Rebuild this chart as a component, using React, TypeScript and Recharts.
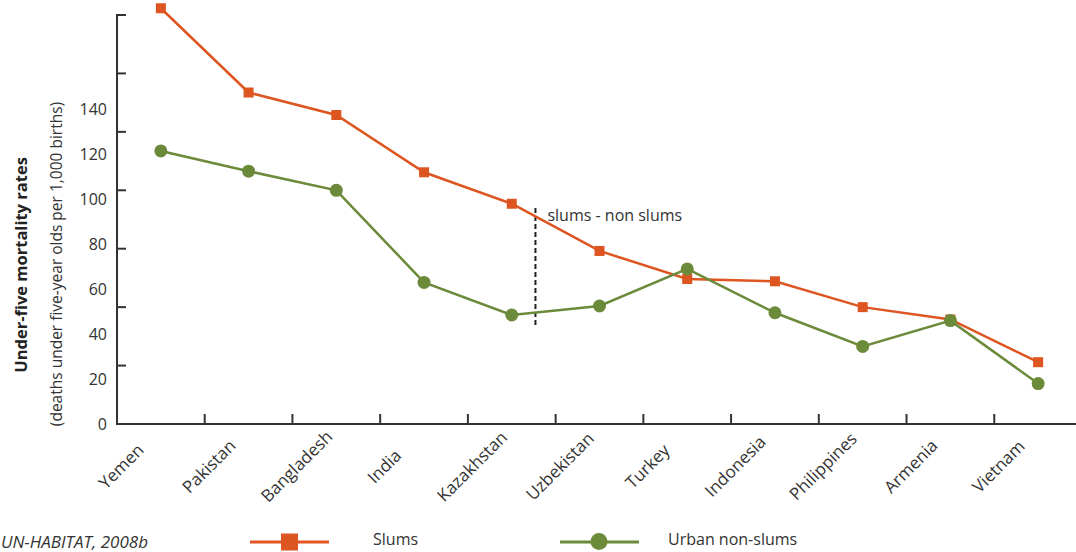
import React from "react";
import {
  LineChart,
  Line,
  XAxis,
  YAxis,
  ReferenceLine,
  Legend,
} from "recharts";

const countries = [
  "Yemen",
  "Pakistan",
  "Bangladesh",
  "India",
  "Kazakhstan",
  "Uzbekistan",
  "Turkey",
  "Indonesia",
  "Philippines",
  "Armenia",
  "Vietnam",
];
const slums = [185, 147.5, 137.5, 112, 98, 77, 64.5, 63.5, 52, 46.5, 27.5];
const nonSlums = [121.5, 112.5, 104, 63, 48.5, 52.5, 69, 49.5, 34.5, 46, 18];

// the printed labels and the tick marks do not share a step in the original
const yLabelTicks = [0, 20, 40, 60, 80, 100, 120, 140];
const yMarkTicks = [0, 26, 52, 78, 104, 130, 156, 182];

const ORANGE = "#DD5520";
const GREEN = "#6B8A3A";
const INK = "#333";
const FONT = "'Open Sans', sans-serif";
const BAND = 87.7; // width of one country slot in px

const data = countries.map((country, i) => ({
  idx: i,
  country,
  slums: slums[i],
  nonSlums: nonSlums[i],
}));

const CountryTick = (props: any) => {
  const { x, y, payload } = props;
  const cx = x - 40;
  const cy = y + 42;
  const last = payload.value === countries.length - 1;
  return (
    <g>
      {!last && (
        <line
          x1={x + BAND / 2}
          x2={x + BAND / 2}
          y1={y}
          y2={y - 10}
          stroke={INK}
          strokeWidth={2}
        />
      )}
      <text
        x={cx}
        y={cy}
        transform={`rotate(-45 ${cx} ${cy})`}
        textAnchor="middle"
        dominantBaseline="central"
        fontSize={17}
        fontFamily={FONT}
        fill={INK}
      >
        {countries[payload.value]}
      </text>
    </g>
  );
};

const MarkTick = (props: any) => {
  const { x, y } = props;
  return <line x1={x} x2={x + 10} y1={y} y2={y} stroke={INK} strokeWidth={2} />;
};

const SquareDot = (props: any) => {
  const { cx, cy, index } = props;
  return <rect key={index} x={cx - 5} y={cy - 5} width={10} height={10} fill={ORANGE} />;
};

const AxisTitle = () => (
  <g fontFamily={FONT} fill={INK}>
    <text
      x={20}
      y={265}
      transform="rotate(-90 20 265)"
      textAnchor="middle"
      dominantBaseline="central"
      fontSize={16.5}
      fontWeight={700}
      fill="#222"
    >
      Under-five mortality rates
    </text>
    <text
      x={56}
      y={264}
      transform="rotate(-90 56 264)"
      textAnchor="middle"
      dominantBaseline="central"
      fontSize={15.5}
    >
      (deaths under five-year olds per 1,000 births)
    </text>
  </g>
);

const LegendContent = (props: any) => {
  const items = props.payload || [];
  const spots = [250, 560];
  return (
    <div style={{ position: "relative", width: 900, height: 24, fontFamily: FONT }}>
      {items.map((item: any, i: number) => (
        <div
          key={item.value}
          style={{ position: "absolute", left: spots[i], top: 0, height: 24 }}
        >
          <svg width={80} height={24} style={{ position: "absolute", left: 0, top: 0 }}>
            <line x1={0} x2={79} y1={13} y2={13} stroke={item.color} strokeWidth={3} />
            {i === 0 ? (
              <rect x={31} y={4.5} width={17} height={17} fill={item.color} />
            ) : (
              <circle cx={39} cy={12.5} r={8.5} fill={item.color} />
            )}
          </svg>
          <span
            style={{
              position: "absolute",
              left: i === 0 ? 123 : 108,
              top: 0,
              fontSize: 16,
              color: INK,
              whiteSpace: "nowrap",
              lineHeight: "20px",
            }}
          >
            {item.value}
          </span>
        </div>
      ))}
    </div>
  );
};

export default function App() {
  return (
    <div
      style={{
        position: "absolute",
        left: 0,
        top: 0,
        width: 1076,
        height: 552,
        overflow: "hidden",
        background: "#fff",
      }}
    >
      <LineChart
        width={1090}
        height={552}
        data={data}
        margin={{ top: 6, right: 8, bottom: 127, left: 115 }}
      >
        <XAxis
          dataKey="idx"
          type="number"
          domain={[-0.5, 10.5]}
          ticks={data.map((d) => d.idx)}
          interval={0}
          height={1}
          tickSize={0}
          tickMargin={0}
          tickLine={false}
          axisLine={{ stroke: INK, strokeWidth: 2 }}
          tick={<CountryTick />}
        />
        <YAxis
          yAxisId="left"
          domain={[0, 186]}
          ticks={yMarkTicks}
          width={1}
          tickSize={0}
          tickMargin={0}
          tickLine={false}
          axisLine={false}
          tick={<MarkTick />}
          label={<AxisTitle />}
        />
        <YAxis
          yAxisId="labels"
          domain={[0, 186]}
          allowDataOverflow
          ticks={yLabelTicks}
          width={1}
          tickSize={0}
          tickMargin={10}
          tickLine={false}
          axisLine={false}
          tick={{ fontSize: 16, fontFamily: FONT, fill: INK }}
        />
        <ReferenceLine
          yAxisId="left"
          segment={[
            { x: -0.5, y: 0 },
            { x: -0.5, y: 182 },
          ]}
          stroke={INK}
          strokeWidth={2}
          ifOverflow="visible"
        />
        <ReferenceLine
          yAxisId="left"
          segment={[
            { x: 4.27, y: 44 },
            { x: 4.27, y: 97.5 },
          ]}
          stroke="#222"
          strokeWidth={2}
          strokeDasharray="5 3"
          ifOverflow="visible"
          label={(p: any) => (
            <text
              x={p.viewBox.x + 12}
              y={p.viewBox.y + 10}
              dominantBaseline="central"
              fontSize={16}
              fontFamily={FONT}
              fill={INK}
            >
              slums - non slums
            </text>
          )}
        />
        <Line
          yAxisId="left"
          dataKey="slums"
          name="Slums"
          stroke={ORANGE}
          strokeWidth={2.5}
          dot={<SquareDot />}
          activeDot={false}
          isAnimationActive={false}
        />
        <Line
          yAxisId="left"
          dataKey="nonSlums"
          name="Urban non-slums"
          stroke={GREEN}
          strokeWidth={2.5}
          dot={{ r: 6.5, fill: GREEN, stroke: GREEN, strokeWidth: 0 }}
          activeDot={false}
          isAnimationActive={false}
        />
        <Legend
          layout="horizontal"
          verticalAlign="middle"
          align="center"
          content={<LegendContent />}
          wrapperStyle={{ left: 0, top: 529, width: 900, height: 24 }}
        />
      </LineChart>
      <div
        style={{
          position: "absolute",
          right: 1076 - 148,
          top: 530,
          fontFamily: FONT,
          fontStyle: "italic",
          fontSize: 17,
          color: INK,
          whiteSpace: "nowrap",
        }}
      >
        UN-HABITAT, 2008b
      </div>
    </div>
  );
}
